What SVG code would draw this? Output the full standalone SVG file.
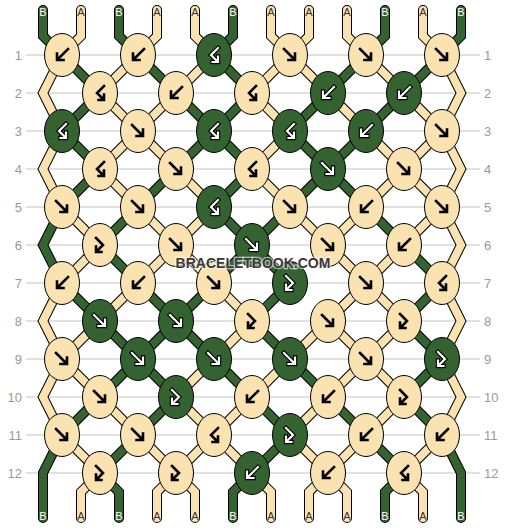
<svg xmlns="http://www.w3.org/2000/svg" xmlns:xlink="http://www.w3.org/1999/xlink" width="506" height="528" viewBox="0 0 506 528">
<style>
.grid line{stroke:#c4c4c4;stroke-width:1}
.rn{font-family:"Liberation Sans",Arial,sans-serif;font-size:13px;fill:#9a9a9a}
.rl{text-anchor:end}
.so{fill:none;stroke:#000;stroke-width:10;stroke-linecap:round;stroke-linejoin:miter}
.sB{fill:none;stroke:#346331;stroke-width:8;stroke-linecap:round;stroke-linejoin:miter}
.sA{fill:none;stroke:#fae3b1;stroke-width:8;stroke-linecap:round;stroke-linejoin:miter}
.kA{fill:#fae3b1;stroke:#000;stroke-width:1}
.kB{fill:#346331;stroke:#000;stroke-width:1}
.il{fill:none;stroke:#000;stroke-width:2.6;stroke-linecap:square}
.io{fill:none;stroke:#000;stroke-width:4.4;stroke-linecap:square}
.iw{fill:none;stroke:#fff;stroke-width:2.2;stroke-linecap:square}
.lb{font-family:"Liberation Sans",Arial,sans-serif;font-size:11px;text-anchor:middle}
.lB{fill:#fff}
.lA{fill:#333}
.wm{font-family:"Liberation Sans",Arial,sans-serif;font-weight:bold;font-size:14px;text-anchor:middle;fill:#3a3a3a;stroke:#fff;stroke-width:2.5;stroke-opacity:0.6;paint-order:stroke}
</style>
<defs>
<path id="f" d="M-6,-6 L4.5,4.5 M-1.5,5 H5 V-1.5"/>
<path id="b" d="M6,-6 L-4.5,4.5 M1.5,5 H-5 V-1.5"/>
<path id="bf" d="M4,-7 L-3,0 L3.5,6.5 M-1.5,7 H4 V1.5"/>
<path id="fb" d="M-4,-7 L3,0 L-3.5,6.5 M1.5,7 H-4 V1.5"/>
</defs>
<rect width="506" height="528" fill="#fff"/>
<g class="grid">
<line x1="26" y1="55" x2="480" y2="55"/><line x1="26" y1="93" x2="480" y2="93"/><line x1="26" y1="131" x2="480" y2="131"/><line x1="26" y1="169" x2="480" y2="169"/><line x1="26" y1="207" x2="480" y2="207"/><line x1="26" y1="245" x2="480" y2="245"/><line x1="26" y1="283" x2="480" y2="283"/><line x1="26" y1="321" x2="480" y2="321"/><line x1="26" y1="359" x2="480" y2="359"/><line x1="26" y1="397" x2="480" y2="397"/><line x1="26" y1="435" x2="480" y2="435"/><line x1="26" y1="473" x2="480" y2="473"/>
</g>
<g id="row-numbers" class="rn">
<text class="rl" x="22" y="59.5">1</text><text class="rl" x="22" y="97.5">2</text><text class="rl" x="22" y="135.5">3</text><text class="rl" x="22" y="173.5">4</text><text class="rl" x="22" y="211.5">5</text><text class="rl" x="22" y="249.5">6</text><text class="rl" x="22" y="287.5">7</text><text class="rl" x="22" y="325.5">8</text><text class="rl" x="22" y="363.5">9</text><text class="rl" x="22" y="401.5">10</text><text class="rl" x="22" y="439.5">11</text><text class="rl" x="22" y="477.5">12</text>
<text x="484" y="59.5">1</text><text x="484" y="97.5">2</text><text x="484" y="135.5">3</text><text x="484" y="173.5">4</text><text x="484" y="211.5">5</text><text x="484" y="249.5">6</text><text x="484" y="287.5">7</text><text x="484" y="325.5">8</text><text x="484" y="363.5">9</text><text x="484" y="401.5">10</text><text x="484" y="439.5">11</text><text x="484" y="477.5">12</text>
</g>
<g id="connectors">
<g id="outlines">
<polyline class="so" points="43,10 43,36 62,55 100,93 62,131 100,169 62,207 43,245 62,283 100,321 138,359 176,397 138,435 100,473 119,492 119,518"/>
<polyline class="so" points="81,10 81,36 62,55 43,93 62,131 43,169 62,207 100,245 62,283 43,321 62,359 100,397 138,435 176,473 157,492 157,518"/>
<polyline class="so" points="119,10 119,36 138,55 176,93 214,131 176,169 138,207 100,245 138,283 176,321 214,359 252,397 290,435 252,473 233,492 233,518"/>
<polyline class="so" points="157,10 157,36 138,55 100,93 138,131 176,169 214,207 176,245 138,283 100,321 62,359 43,397 62,435 100,473 81,492 81,518"/>
<polyline class="so" points="195,10 195,36 214,55 176,93 138,131 100,169 138,207 176,245 214,283 252,321 214,359 176,397 214,435 176,473 195,492 195,518"/>
<polyline class="so" points="233,10 233,36 214,55 252,93 214,131 252,169 214,207 252,245 290,283 252,321 290,359 328,397 366,435 404,473 385,492 385,518"/>
<polyline class="so" points="271,10 271,36 290,55 328,93 366,131 404,169 442,207 461,245 442,283 461,321 442,359 461,397 442,435 404,473 423,492 423,518"/>
<polyline class="so" points="309,10 309,36 290,55 252,93 290,131 252,169 290,207 328,245 366,283 404,321 366,359 328,397 290,435 328,473 347,492 347,518"/>
<polyline class="so" points="347,10 347,36 366,55 404,93 442,131 461,169 442,207 404,245 366,283 328,321 290,359 252,397 214,435 252,473 271,492 271,518"/>
<polyline class="so" points="385,10 385,36 366,55 328,93 290,131 328,169 366,207 404,245 442,283 404,321 442,359 404,397 442,435 461,473 461,492 461,518"/>
<polyline class="so" points="423,10 423,36 442,55 461,93 442,131 404,169 366,207 328,245 366,283 328,321 366,359 404,397 366,435 328,473 309,492 309,518"/>
<polyline class="so" points="461,10 461,36 442,55 404,93 366,131 328,169 290,207 252,245 214,283 176,321 138,359 100,397 62,435 43,473 43,492 43,518"/>
</g>
<polyline id="s0" class="sB" points="43,10 43,36 62,55 100,93 62,131 100,169 62,207 43,245 62,283 100,321 138,359 176,397 138,435 100,473 119,492 119,518"/>
<polyline id="s1" class="sA" points="81,10 81,36 62,55 43,93 62,131 43,169 62,207 100,245 62,283 43,321 62,359 100,397 138,435 176,473 157,492 157,518"/>
<polyline id="s2" class="sB" points="119,10 119,36 138,55 176,93 214,131 176,169 138,207 100,245 138,283 176,321 214,359 252,397 290,435 252,473 233,492 233,518"/>
<polyline id="s3" class="sA" points="157,10 157,36 138,55 100,93 138,131 176,169 214,207 176,245 138,283 100,321 62,359 43,397 62,435 100,473 81,492 81,518"/>
<polyline id="s4" class="sA" points="195,10 195,36 214,55 176,93 138,131 100,169 138,207 176,245 214,283 252,321 214,359 176,397 214,435 176,473 195,492 195,518"/>
<polyline id="s5" class="sB" points="233,10 233,36 214,55 252,93 214,131 252,169 214,207 252,245 290,283 252,321 290,359 328,397 366,435 404,473 385,492 385,518"/>
<polyline id="s6" class="sA" points="271,10 271,36 290,55 328,93 366,131 404,169 442,207 461,245 442,283 461,321 442,359 461,397 442,435 404,473 423,492 423,518"/>
<polyline id="s7" class="sA" points="309,10 309,36 290,55 252,93 290,131 252,169 290,207 328,245 366,283 404,321 366,359 328,397 290,435 328,473 347,492 347,518"/>
<polyline id="s8" class="sA" points="347,10 347,36 366,55 404,93 442,131 461,169 442,207 404,245 366,283 328,321 290,359 252,397 214,435 252,473 271,492 271,518"/>
<polyline id="s9" class="sB" points="385,10 385,36 366,55 328,93 290,131 328,169 366,207 404,245 442,283 404,321 442,359 404,397 442,435 461,473 461,492 461,518"/>
<polyline id="s10" class="sA" points="423,10 423,36 442,55 461,93 442,131 404,169 366,207 328,245 366,283 328,321 366,359 404,397 366,435 328,473 309,492 309,518"/>
<polyline id="s11" class="sB" points="461,10 461,36 442,55 404,93 366,131 328,169 290,207 252,245 214,283 176,321 138,359 100,397 62,435 43,473 43,492 43,518"/>
</g>
<g id="labels" class="lb">
<text class="lB" x="43" y="16">B</text><text class="lA" x="81" y="16">A</text><text class="lB" x="119" y="16">B</text><text class="lA" x="157" y="16">A</text><text class="lA" x="195" y="16">A</text><text class="lB" x="233" y="16">B</text><text class="lA" x="271" y="16">A</text><text class="lA" x="309" y="16">A</text><text class="lA" x="347" y="16">A</text><text class="lB" x="385" y="16">B</text><text class="lA" x="423" y="16">A</text><text class="lB" x="461" y="16">B</text>
<text class="lB" x="43" y="520">B</text><text class="lA" x="81" y="520">A</text><text class="lB" x="119" y="520">B</text><text class="lA" x="157" y="520">A</text><text class="lA" x="195" y="520">A</text><text class="lB" x="233" y="520">B</text><text class="lA" x="271" y="520">A</text><text class="lA" x="309" y="520">A</text><text class="lA" x="347" y="520">A</text><text class="lB" x="385" y="520">B</text><text class="lA" x="423" y="520">A</text><text class="lB" x="461" y="520">B</text>
</g>
<g id="knots">
<g id="k1-1"><ellipse class="kA" cx="62" cy="55" rx="17.5" ry="21.5"/><use href="#b" x="62" y="55" class="il"/></g>
<g id="k1-2"><ellipse class="kA" cx="138" cy="55" rx="17.5" ry="21.5"/><use href="#b" x="138" y="55" class="il"/></g>
<g id="k1-3"><ellipse class="kB" cx="214" cy="55" rx="17.5" ry="21.5"/><use href="#bf" x="214" y="55" class="io"/><use href="#bf" x="214" y="55" class="iw"/></g>
<g id="k1-4"><ellipse class="kA" cx="290" cy="55" rx="17.5" ry="21.5"/><use href="#f" x="290" y="55" class="il"/></g>
<g id="k1-5"><ellipse class="kA" cx="366" cy="55" rx="17.5" ry="21.5"/><use href="#f" x="366" y="55" class="il"/></g>
<g id="k1-6"><ellipse class="kA" cx="442" cy="55" rx="17.5" ry="21.5"/><use href="#f" x="442" y="55" class="il"/></g>

<g id="k2-1"><ellipse class="kA" cx="100" cy="93" rx="17.5" ry="21.5"/><use href="#bf" x="100" y="93" class="il"/></g>
<g id="k2-2"><ellipse class="kA" cx="176" cy="93" rx="17.5" ry="21.5"/><use href="#b" x="176" y="93" class="il"/></g>
<g id="k2-3"><ellipse class="kA" cx="252" cy="93" rx="17.5" ry="21.5"/><use href="#bf" x="252" y="93" class="il"/></g>
<g id="k2-4"><ellipse class="kB" cx="328" cy="93" rx="17.5" ry="21.5"/><use href="#b" x="328" y="93" class="io"/><use href="#b" x="328" y="93" class="iw"/></g>
<g id="k2-5"><ellipse class="kB" cx="404" cy="93" rx="17.5" ry="21.5"/><use href="#b" x="404" y="93" class="io"/><use href="#b" x="404" y="93" class="iw"/></g>

<g id="k3-1"><ellipse class="kB" cx="62" cy="131" rx="17.5" ry="21.5"/><use href="#bf" x="62" y="131" class="io"/><use href="#bf" x="62" y="131" class="iw"/></g>
<g id="k3-2"><ellipse class="kA" cx="138" cy="131" rx="17.5" ry="21.5"/><use href="#f" x="138" y="131" class="il"/></g>
<g id="k3-3"><ellipse class="kB" cx="214" cy="131" rx="17.5" ry="21.5"/><use href="#bf" x="214" y="131" class="io"/><use href="#bf" x="214" y="131" class="iw"/></g>
<g id="k3-4"><ellipse class="kB" cx="290" cy="131" rx="17.5" ry="21.5"/><use href="#bf" x="290" y="131" class="io"/><use href="#bf" x="290" y="131" class="iw"/></g>
<g id="k3-5"><ellipse class="kB" cx="366" cy="131" rx="17.5" ry="21.5"/><use href="#b" x="366" y="131" class="io"/><use href="#b" x="366" y="131" class="iw"/></g>
<g id="k3-6"><ellipse class="kA" cx="442" cy="131" rx="17.5" ry="21.5"/><use href="#f" x="442" y="131" class="il"/></g>

<g id="k4-1"><ellipse class="kA" cx="100" cy="169" rx="17.5" ry="21.5"/><use href="#bf" x="100" y="169" class="il"/></g>
<g id="k4-2"><ellipse class="kA" cx="176" cy="169" rx="17.5" ry="21.5"/><use href="#f" x="176" y="169" class="il"/></g>
<g id="k4-3"><ellipse class="kA" cx="252" cy="169" rx="17.5" ry="21.5"/><use href="#bf" x="252" y="169" class="il"/></g>
<g id="k4-4"><ellipse class="kB" cx="328" cy="169" rx="17.5" ry="21.5"/><use href="#f" x="328" y="169" class="io"/><use href="#f" x="328" y="169" class="iw"/></g>
<g id="k4-5"><ellipse class="kA" cx="404" cy="169" rx="17.5" ry="21.5"/><use href="#f" x="404" y="169" class="il"/></g>

<g id="k5-1"><ellipse class="kA" cx="62" cy="207" rx="17.5" ry="21.5"/><use href="#f" x="62" y="207" class="il"/></g>
<g id="k5-2"><ellipse class="kA" cx="138" cy="207" rx="17.5" ry="21.5"/><use href="#f" x="138" y="207" class="il"/></g>
<g id="k5-3"><ellipse class="kB" cx="214" cy="207" rx="17.5" ry="21.5"/><use href="#bf" x="214" y="207" class="io"/><use href="#bf" x="214" y="207" class="iw"/></g>
<g id="k5-4"><ellipse class="kA" cx="290" cy="207" rx="17.5" ry="21.5"/><use href="#f" x="290" y="207" class="il"/></g>
<g id="k5-5"><ellipse class="kA" cx="366" cy="207" rx="17.5" ry="21.5"/><use href="#b" x="366" y="207" class="il"/></g>
<g id="k5-6"><ellipse class="kA" cx="442" cy="207" rx="17.5" ry="21.5"/><use href="#f" x="442" y="207" class="il"/></g>

<g id="k6-1"><ellipse class="kA" cx="100" cy="245" rx="17.5" ry="21.5"/><use href="#fb" x="100" y="245" class="il"/></g>
<g id="k6-2"><ellipse class="kA" cx="176" cy="245" rx="17.5" ry="21.5"/><use href="#f" x="176" y="245" class="il"/></g>
<g id="k6-3"><ellipse class="kB" cx="252" cy="245" rx="17.5" ry="21.5"/><use href="#f" x="252" y="245" class="io"/><use href="#f" x="252" y="245" class="iw"/></g>
<g id="k6-4"><ellipse class="kA" cx="328" cy="245" rx="17.5" ry="21.5"/><use href="#f" x="328" y="245" class="il"/></g>
<g id="k6-5"><ellipse class="kA" cx="404" cy="245" rx="17.5" ry="21.5"/><use href="#b" x="404" y="245" class="il"/></g>

<g id="k7-1"><ellipse class="kA" cx="62" cy="283" rx="17.5" ry="21.5"/><use href="#b" x="62" y="283" class="il"/></g>
<g id="k7-2"><ellipse class="kA" cx="138" cy="283" rx="17.5" ry="21.5"/><use href="#b" x="138" y="283" class="il"/></g>
<g id="k7-3"><ellipse class="kA" cx="214" cy="283" rx="17.5" ry="21.5"/><use href="#f" x="214" y="283" class="il"/></g>
<g id="k7-4"><ellipse class="kB" cx="290" cy="283" rx="17.5" ry="21.5"/><use href="#fb" x="290" y="283" class="io"/><use href="#fb" x="290" y="283" class="iw"/></g>
<g id="k7-5"><ellipse class="kA" cx="366" cy="283" rx="17.5" ry="21.5"/><use href="#f" x="366" y="283" class="il"/></g>
<g id="k7-6"><ellipse class="kA" cx="442" cy="283" rx="17.5" ry="21.5"/><use href="#bf" x="442" y="283" class="il"/></g>

<g id="k8-1"><ellipse class="kB" cx="100" cy="321" rx="17.5" ry="21.5"/><use href="#f" x="100" y="321" class="io"/><use href="#f" x="100" y="321" class="iw"/></g>
<g id="k8-2"><ellipse class="kB" cx="176" cy="321" rx="17.5" ry="21.5"/><use href="#f" x="176" y="321" class="io"/><use href="#f" x="176" y="321" class="iw"/></g>
<g id="k8-3"><ellipse class="kA" cx="252" cy="321" rx="17.5" ry="21.5"/><use href="#fb" x="252" y="321" class="il"/></g>
<g id="k8-4"><ellipse class="kA" cx="328" cy="321" rx="17.5" ry="21.5"/><use href="#f" x="328" y="321" class="il"/></g>
<g id="k8-5"><ellipse class="kA" cx="404" cy="321" rx="17.5" ry="21.5"/><use href="#fb" x="404" y="321" class="il"/></g>

<g id="k9-1"><ellipse class="kA" cx="62" cy="359" rx="17.5" ry="21.5"/><use href="#f" x="62" y="359" class="il"/></g>
<g id="k9-2"><ellipse class="kB" cx="138" cy="359" rx="17.5" ry="21.5"/><use href="#f" x="138" y="359" class="io"/><use href="#f" x="138" y="359" class="iw"/></g>
<g id="k9-3"><ellipse class="kB" cx="214" cy="359" rx="17.5" ry="21.5"/><use href="#f" x="214" y="359" class="io"/><use href="#f" x="214" y="359" class="iw"/></g>
<g id="k9-4"><ellipse class="kB" cx="290" cy="359" rx="17.5" ry="21.5"/><use href="#f" x="290" y="359" class="io"/><use href="#f" x="290" y="359" class="iw"/></g>
<g id="k9-5"><ellipse class="kA" cx="366" cy="359" rx="17.5" ry="21.5"/><use href="#f" x="366" y="359" class="il"/></g>
<g id="k9-6"><ellipse class="kB" cx="442" cy="359" rx="17.5" ry="21.5"/><use href="#fb" x="442" y="359" class="io"/><use href="#fb" x="442" y="359" class="iw"/></g>

<g id="k10-1"><ellipse class="kA" cx="100" cy="397" rx="17.5" ry="21.5"/><use href="#f" x="100" y="397" class="il"/></g>
<g id="k10-2"><ellipse class="kB" cx="176" cy="397" rx="17.5" ry="21.5"/><use href="#fb" x="176" y="397" class="io"/><use href="#fb" x="176" y="397" class="iw"/></g>
<g id="k10-3"><ellipse class="kA" cx="252" cy="397" rx="17.5" ry="21.5"/><use href="#b" x="252" y="397" class="il"/></g>
<g id="k10-4"><ellipse class="kA" cx="328" cy="397" rx="17.5" ry="21.5"/><use href="#b" x="328" y="397" class="il"/></g>
<g id="k10-5"><ellipse class="kA" cx="404" cy="397" rx="17.5" ry="21.5"/><use href="#fb" x="404" y="397" class="il"/></g>

<g id="k11-1"><ellipse class="kA" cx="62" cy="435" rx="17.5" ry="21.5"/><use href="#f" x="62" y="435" class="il"/></g>
<g id="k11-2"><ellipse class="kA" cx="138" cy="435" rx="17.5" ry="21.5"/><use href="#f" x="138" y="435" class="il"/></g>
<g id="k11-3"><ellipse class="kA" cx="214" cy="435" rx="17.5" ry="21.5"/><use href="#bf" x="214" y="435" class="il"/></g>
<g id="k11-4"><ellipse class="kB" cx="290" cy="435" rx="17.5" ry="21.5"/><use href="#fb" x="290" y="435" class="io"/><use href="#fb" x="290" y="435" class="iw"/></g>
<g id="k11-5"><ellipse class="kA" cx="366" cy="435" rx="17.5" ry="21.5"/><use href="#b" x="366" y="435" class="il"/></g>
<g id="k11-6"><ellipse class="kA" cx="442" cy="435" rx="17.5" ry="21.5"/><use href="#b" x="442" y="435" class="il"/></g>

<g id="k12-1"><ellipse class="kA" cx="100" cy="473" rx="17.5" ry="21.5"/><use href="#fb" x="100" y="473" class="il"/></g>
<g id="k12-2"><ellipse class="kA" cx="176" cy="473" rx="17.5" ry="21.5"/><use href="#fb" x="176" y="473" class="il"/></g>
<g id="k12-3"><ellipse class="kB" cx="252" cy="473" rx="17.5" ry="21.5"/><use href="#b" x="252" y="473" class="io"/><use href="#b" x="252" y="473" class="iw"/></g>
<g id="k12-4"><ellipse class="kA" cx="328" cy="473" rx="17.5" ry="21.5"/><use href="#b" x="328" y="473" class="il"/></g>
<g id="k12-5"><ellipse class="kA" cx="404" cy="473" rx="17.5" ry="21.5"/><use href="#bf" x="404" y="473" class="il"/></g>
</g>
<text class="wm" x="253" y="268">BRACELETBOOK.COM</text>
</svg>
